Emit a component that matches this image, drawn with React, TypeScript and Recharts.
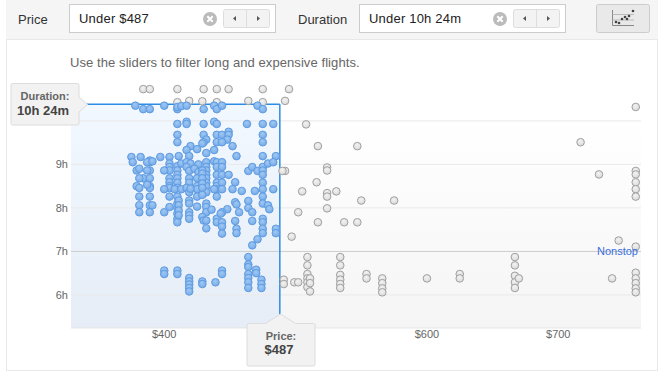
import { ScatterChart, Scatter, XAxis, YAxis, ZAxis, ReferenceArea, ReferenceLine, CartesianGrid } from "recharts";

// [price in $, duration in hours]
const selectedLong: [number, number][] = [
  [378, 10.35], [384, 10.27], [389, 10.27], [400, 10.35], [410, 10.27], [410, 10.32], [413, 10.34], [417, 10.35], [430, 10.27], [438, 10.35], [440, 10.27], [444, 10.35], [471, 10.35], [475, 10.27],
  [410, 9.93], [417, 9.98], [417, 9.93], [430, 9.93], [438, 9.98], [440, 9.93], [463, 9.93], [475, 9.93], [483, 9.93],
  [410, 9.68], [410, 9.51], [430, 9.68], [432, 9.57], [430, 9.51], [440, 9.68], [444, 9.68], [449, 9.75], [449, 9.68], [448, 9.57], [440, 9.51], [444, 9.51], [475, 9.68], [475, 9.51], [452, 9.42], [420, 9.42], [417, 9.33], [425, 9.35], [429, 9.48], [438, 9.33], [432, 9.26],
  [375, 9.17], [382, 9.17], [389, 9.09], [397, 9.17], [404, 9.17], [411, 9.19], [419, 9.19], [455, 9.19], [475, 9.19], [485, 9.19],
];

const selectedMid: [number, number][] = [
  [376, 9.05], [389, 9.05], [387, 9.05], [391, 9.07], [404, 9.02], [404, 8.94], [410, 8.96], [413, 9.02], [417, 9.05], [420, 9.02], [426, 9.0], [432, 9.05], [438, 9.07], [440, 9.05], [444, 9.05],
  [379, 8.86], [381, 8.9], [384, 8.68], [381, 8.68], [379, 8.5], [381, 8.46], [381, 8.26], [381, 8.06], [381, 7.9],
  [389, 8.86], [389, 8.68], [389, 8.5], [389, 8.46], [389, 8.26], [389, 8.06], [389, 7.9], [391, 8.06], [387, 8.53], [387, 8.86],
  [400, 7.9], [404, 8.02], [404, 8.86], [404, 8.68], [404, 8.59], [404, 8.5], [404, 8.46], [404, 8.26], [400, 8.86], [400, 8.43],
  [410, 8.86], [410, 8.76], [410, 8.68], [410, 8.58], [410, 8.46], [410, 8.26], [410, 8.1], [410, 8.0], [410, 7.87], [410, 7.75], [410, 7.67],
  [411, 8.17], [411, 8.06], [411, 7.94], [411, 7.83], [408, 8.43], [413, 8.43],
  [417, 8.94], [419, 8.85], [419, 8.68], [419, 8.58], [417, 8.46], [419, 8.36], [419, 8.17], [419, 8.1], [419, 7.9], [419, 7.83], [419, 7.75],
  [423, 8.9], [426, 8.82], [425, 8.68], [425, 8.5], [425, 8.43], [425, 8.26], [425, 8.03], [420, 8.44],
  [432, 8.94], [432, 8.86], [432, 8.76], [432, 8.68], [432, 8.58], [432, 8.5], [432, 8.36],
  [429, 8.86], [429, 8.79], [429, 8.68], [429, 8.56], [429, 8.46], [429, 8.3], [432, 8.1], [432, 8.02], [432, 7.9], [429, 7.79], [430, 7.71], [432, 7.71], [432, 7.53], [436, 7.96],
  [440, 8.94], [440, 8.76], [440, 8.58], [440, 8.5], [440, 8.43], [440, 8.26], [438, 8.43],
  [444, 8.94], [444, 8.76], [444, 8.58], [444, 8.43], [449, 8.76], [448, 7.97], [444, 7.9], [440, 7.75], [440, 7.67], [444, 7.67], [444, 7.57], [444, 7.41], [443, 7.87],
  [452, 8.43], [454, 8.59], [459, 8.39], [464, 8.85], [467, 8.94], [471, 8.85], [475, 8.94], [479, 9.02], [483, 9.05], [475, 8.86], [475, 8.76], [475, 8.58], [475, 8.43], [469, 8.39], [483, 8.43],
  [475, 8.26], [475, 8.1], [479, 8.06], [480, 7.97], [454, 8.13], [455, 8.08], [464, 8.16], [464, 8.0], [467, 7.9], [457, 7.9], [454, 7.7], [467, 7.7], [475, 7.75], [475, 7.67],
  [455, 7.52], [455, 7.42], [475, 7.52], [475, 7.42], [485, 7.52], [485, 7.42], [471, 7.28], [467, 7.14],
];

const selectedShort: [number, number][] = [
  [400, 6.56], [400, 6.48], [410, 6.56], [410, 6.48], [419, 6.39], [419, 6.31], [419, 6.24], [419, 6.16], [419, 6.08], [429, 6.31], [429, 6.25], [439, 6.29], [444, 6.56], [444, 6.48],
  [464, 6.87], [464, 6.7], [464, 6.64], [464, 6.48], [464, 6.39], [464, 6.29], [464, 6.16], [470, 6.58], [470, 6.5], [474, 6.35], [474, 6.25], [474, 6.16],
];

const filteredTop: [number, number][] = [
  [384, 10.73], [389, 10.73], [410, 10.73], [430, 10.73], [440, 10.73], [449, 10.73], [475, 10.73], [495, 10.73],
  [410, 10.43], [419, 10.46], [429, 10.45], [440, 10.43], [464, 10.46], [475, 10.43], [492, 10.46],
];

const filteredPricey: [number, number][] = [
  [759, 10.32], [508, 9.92], [517, 9.42], [547, 9.42], [717, 9.51], [524, 8.93], [524, 8.86], [492, 8.85], [490, 8.85], [731, 8.77],
  [759, 8.85], [759, 8.77], [759, 8.59], [759, 8.43], [759, 8.26], [516, 8.59], [505, 8.38], [524, 8.34], [524, 8.26], [531, 8.38],
  [550, 8.17], [575, 8.17], [502, 7.9], [524, 7.99], [517, 7.67], [537, 7.67], [547, 7.67], [497, 7.34], [746, 7.25], [759, 7.11],
];

const filteredShort: [number, number][] = [
  [491, 6.35], [491, 6.25], [499, 6.29], [502, 6.29], [509, 6.87], [509, 6.68], [509, 6.48], [509, 6.38], [509, 6.29], [509, 6.18], [511, 6.38], [511, 6.27], [511, 6.08],
  [534, 6.87], [534, 6.68], [534, 6.46], [534, 6.35], [534, 6.25], [534, 6.16], [554, 6.48], [554, 6.38], [566, 6.38], [566, 6.27], [566, 6.15], [566, 6.06],
  [600, 6.38], [625, 6.48], [625, 6.38], [667, 6.87], [667, 6.68], [667, 6.44], [667, 6.29], [667, 6.16], [670, 6.38], [741, 6.38],
  [759, 6.51], [759, 6.38], [759, 6.27], [759, 6.15], [759, 6.06],
];

const priceTicks = [400, 600, 700];
const durationTicks = [6, 7, 8, 9];
const gridHours = [6, 8, 9, 10];
const priceCut = 488;
const durationCut = 10.38;

const toRows = (pairs: [number, number][]) => pairs.map(([price, hours]) => ({ price, hours }));
const selected = toRows([...selectedLong, ...selectedMid, ...selectedShort]);
const filtered = toRows([...filteredTop, ...filteredPricey, ...filteredShort]);

const Dot = ({ cx, cy, fill, stroke }: any) => <circle cx={cx} cy={cy} r={3.8} fill={fill} stroke={stroke} strokeWidth={1} />;

const inputStyle: React.CSSProperties = {
  position: "absolute", top: 4, height: 27, background: "#fff", border: "1px solid #ccc", boxSizing: "content-box",
};

function FilterBox({ left, width, text }: { left: number; width: number; text: string }) {
  return (
    <div style={{ ...inputStyle, left, width }}>
      <span style={{ position: "absolute", left: 9, top: 6, fontSize: 13, letterSpacing: 0.2, color: "#222" }}>{text}</span>
      <svg style={{ position: "absolute", left: width - 73, top: 6 }} width={16} height={16}>
        <circle cx={8} cy={8} r={7} fill="#bbb" />
        <path d="M5.3 5.3 L10.7 10.7 M10.7 5.3 L5.3 10.7" stroke="#fff" strokeWidth={2} />
      </svg>
      <svg style={{ position: "absolute", left: width - 52, top: 4 }} width={47} height={20}>
        <rect x={0.5} y={0.5} width={46} height={18} rx={2} fill="#f3f3f3" stroke="#ddd" />
        <line x1={23.5} y1={1} x2={23.5} y2={18} stroke="#ddd" />
        <path d="M13 7 L13 12 L10 9.5 Z" fill="#555" />
        <path d="M34 7 L34 12 L37 9.5 Z" fill="#555" />
      </svg>
    </div>
  );
}

export default function App() {
  return (
    <div style={{ position: "absolute", left: 0, top: 0, width: 670, height: 377, background: "#fff", fontFamily: "'Liberation Sans', Arial, sans-serif", overflow: "hidden" }}>
      <div style={{ position: "absolute", left: 6, top: 39, width: 650, height: 330, border: "1px solid #e8e8e8" }} />
      <div style={{ position: "absolute", left: 6, top: 0, width: 652, height: 39, background: "#f5f5f5" }} />

      <span style={{ position: "absolute", left: 18, top: 12, fontSize: 13, color: "#333" }}>Price</span>
      <FilterBox left={69} width={205} text="Under $487" />
      <span style={{ position: "absolute", left: 298, top: 12, fontSize: 13, color: "#333" }}>Duration</span>
      <FilterBox left={359} width={205} text="Under 10h 24m" />
      <svg style={{ position: "absolute", left: 596, top: 4 }} width={54} height={29}>
        <rect x={0.5} y={0.5} width={53} height={28} rx={2} fill="#e9e9e9" stroke="#ccc" />
        <path d="M16.5 6 V21.5 H38" stroke="#888" fill="none" />
        <path d="M16.5 10.5 H38 M16.5 16 H38" stroke="#bbb" fill="none" />
        {[[20, 18], [23, 19], [26, 15], [29, 13], [31, 15], [33, 12], [37, 7]].map(([x, y]) => (
          <circle key={x} cx={x} cy={y} r={1.3} fill="#444" />
        ))}
      </svg>

      <span style={{ position: "absolute", left: 70, top: 55, fontSize: 13, letterSpacing: 0.08, color: "#666" }}>Use the sliders to filter long and expensive flights.</span>

      <div style={{ position: "absolute", left: 0, top: 0 }}>
        <ScatterChart width={670} height={377} margin={{ top: 80, right: 29, bottom: 0, left: 0 }}>
          <defs>
            <linearGradient id="plotBg" x1="0" y1="0" x2="0" y2="1">
              <stop offset="0.15" stopColor="#ffffff" />
              <stop offset="1" stopColor="#f5f5f5" />
            </linearGradient>
            <linearGradient id="selectBg" x1="0" y1="0" x2="0" y2="1">
              <stop offset="0" stopColor="#f2f8ff" />
              <stop offset="1" stopColor="#e6edf6" />
            </linearGradient>
            <radialGradient id="blueDot" cx="0.45" cy="0.35" r="0.7">
              <stop offset="0" stopColor="#9fc8f3" />
              <stop offset="1" stopColor="#72a8e6" />
            </radialGradient>
            <radialGradient id="grayDot" cx="0.45" cy="0.35" r="0.7">
              <stop offset="0" stopColor="#f2f2f2" />
              <stop offset="1" stopColor="#d9d9d9" />
            </radialGradient>
          </defs>
          <XAxis
            type="number"
            dataKey="price"
            domain={[329, 763]}
            ticks={priceTicks}
            allowDataOverflow
            height={49}
            tickSize={0}
            tickMargin={2}
            tickFormatter={(v) => `$${v}`}
            tick={{ fontSize: 11, fill: "#666" }}
            axisLine={{ stroke: "#e5e5e5" }}
          />
          <YAxis
            type="number"
            dataKey="hours"
            domain={[5.24, 10.94]}
            ticks={durationTicks}
            allowDataOverflow
            width={71}
            tickSize={0}
            tickMargin={3}
            tickFormatter={(v) => `${v}h`}
            tick={{ fontSize: 11, fill: "#666" }}
            axisLine={false}
          />
          <ZAxis range={[50, 50]} />
          <ReferenceArea x1={329} x2={763} y1={5.24} y2={10.94} fill="url(#plotBg)" fillOpacity={1} stroke="none" />
          <ReferenceArea x1={329} x2={priceCut} y1={5.24} y2={durationCut} fill="url(#selectBg)" fillOpacity={1} stroke="none" />
          {gridHours.map((h) => (
            <ReferenceLine key={h} y={h} stroke="#e9e9e9" />
          ))}
          <ReferenceLine
            y={7}
            stroke="#cdcdcd"
            label={{ value: "Nonstop", position: "insideRight", offset: 3, fontSize: 11, fill: "#3a6fe0" }}
          />
          <ReferenceLine segment={[{ x: 329, y: durationCut }, { x: priceCut, y: durationCut }]} stroke="#2d8ce6" strokeWidth={1.5} />
          <ReferenceLine segment={[{ x: priceCut, y: 5.24 }, { x: priceCut, y: durationCut }]} stroke="#2d8ce6" strokeWidth={1.5} />
          <Scatter data={filtered} isAnimationActive={false} shape={(p: any) => <Dot {...p} fill="url(#grayDot)" stroke="#a0a0a0" />} />
          <Scatter data={selected} isAnimationActive={false} shape={(p: any) => <Dot {...p} fill="url(#blueDot)" stroke="#5f9be2" />} />
        </ScatterChart>
      </div>

      <svg style={{ position: "absolute", left: 0, top: 0 }} width={670} height={377}>
        <path d="M12.5 83.5 H77.5 Q79 83.5 79 85 V97 L87.5 104.5 L79 112 V123 Q79 125 77.5 125 H12.5 Q11 125 11 123 V85 Q11 83.5 12.5 83.5 Z" fill="#f2f2f2" stroke="#dcdcdc" />
        <path d="M248.5 323.5 H265.5 L280.5 314 L295.5 323.5 H313.5 Q315 323.5 315 325 V364.5 Q315 366 313.5 366 H248.5 Q247 366 247 364.5 V325 Q247 323.5 248.5 323.5 Z" fill="#f2f2f2" stroke="#dcdcdc" />
        <g fontWeight="bold" textAnchor="middle" fontFamily="'Liberation Sans', Arial, sans-serif">
          <text x={45} y={100} fontSize={11} fill="#666">Duration:</text>
          <text x={43} y={115} fontSize={13} fill="#444">10h 24m</text>
          <text x={281} y={340} fontSize={11} fill="#666">Price:</text>
          <text x={279} y={354} fontSize={13} fill="#444">$487</text>
        </g>
      </svg>
    </div>
  );
}
